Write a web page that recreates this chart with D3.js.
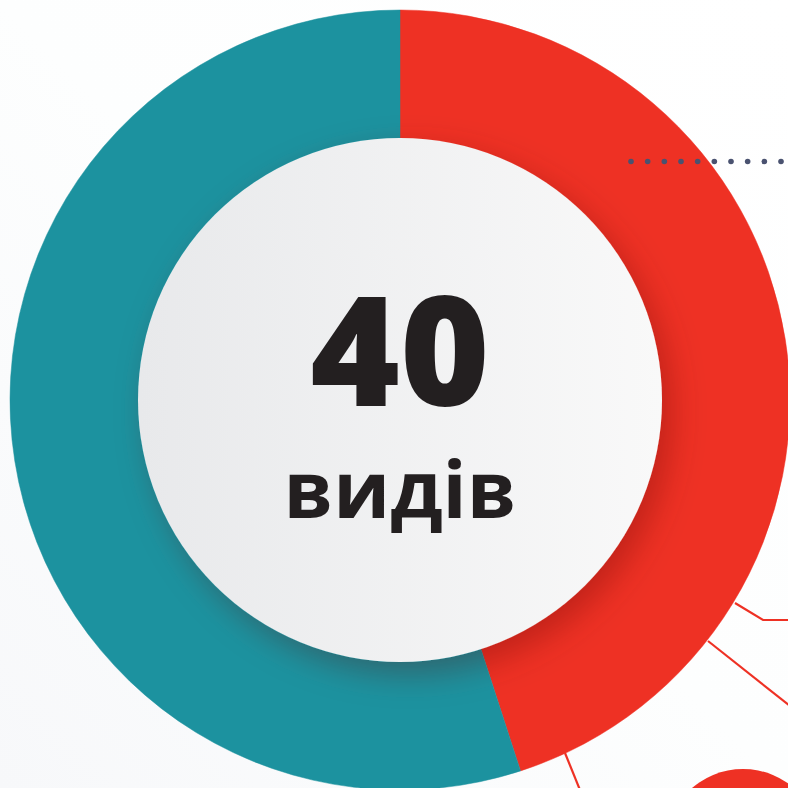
<!DOCTYPE html>
<html>
<head>
<meta charset="utf-8">
<script src="https://cdn.jsdelivr.net/npm/d3@7"></script>
<style>
  body { margin: 0; background: #fcfdfd; }
  svg { display: block; }
</style>
</head>
<body>
<script>
var categories = ["Червоні", "Бірюзові"];
var values = [18, 22];
var colors = ["#ee3124", "#1c929f"];
var totalLabel = "40";
var unitLabel = "видів";

var width = 788, height = 788;
var cx = 400, cy = 400,
    outerR = 390, innerR = 262;

var svg = d3.select("body")
            .append("svg")
            .attr("width", width)
            .attr("height", height);

var defs = svg.append("defs");

var bg = defs.append("linearGradient")
             .attr("id", "bg")
             .attr("x1", "0").attr("y1", "1").attr("x2", "1").attr("y2", "0");
bg.append("stop").attr("offset", "0").attr("stop-color", "#f7f8fa");
bg.append("stop").attr("offset", "0.5").attr("stop-color", "#fdfefe");
bg.append("stop").attr("offset", "1").attr("stop-color", "#ffffff");

var inner = defs.append("linearGradient")
                .attr("id", "inner")
                .attr("x1", "0").attr("y1", "0").attr("x2", "1").attr("y2", "0");
inner.append("stop").attr("offset", "0").attr("stop-color", "#e8e9eb");
inner.append("stop").attr("offset", "1").attr("stop-color", "#f9f9f9");

var shadow = defs.append("filter")
                 .attr("id", "shadow")
                 .attr("x", "-30%").attr("y", "-30%")
                 .attr("width", "160%").attr("height", "160%");
shadow.append("feDropShadow")
      .attr("dx", 10).attr("dy", 12)
      .attr("stdDeviation", 16)
      .attr("flood-color", "#5a1010")
      .attr("flood-opacity", 0.3);

svg.append("rect")
   .attr("width", width).attr("height", height)
   .attr("fill", "url(#bg)");

// decorative connector lines
var lines = svg.append("g")
               .attr("fill", "none")
               .attr("stroke", "#ee3124")
               .attr("stroke-width", 2.2);
lines.append("polyline").attr("points", "735,603 763,620 790,620");
lines.append("line").attr("x1", 708).attr("y1", 641).attr("x2", 790).attr("y2", 706);
lines.append("line").attr("x1", 565).attr("y1", 753).attr("x2", 580).attr("y2", 790);

svg.append("circle")
   .attr("cx", 743).attr("cy", 847).attr("r", 78)
   .attr("fill", "#ee3124");

var pie = d3.pie()
            .sort(null)
            .value(function(d){ return d; });

var arc = d3.arc()
            .innerRadius(innerR - 4)
            .outerRadius(outerR);

var ring = svg.append("g")
              .attr("transform", "translate(" + cx + "," + cy + ")");

ring.selectAll("path")
    .data(pie(values))
    .enter()
    .append("path")
    .attr("d", arc)
    .attr("fill", function(d, i){ return colors[i]; })
    .attr("stroke", function(d, i){ return colors[i]; })
    .attr("stroke-width", 0.5);

ring.append("circle")
    .attr("r", innerR)
    .attr("fill", "url(#inner)")
    .attr("filter", "url(#shadow)");

// one text block, two lines
var label = ring.append("text")
    .attr("text-anchor", "middle")
    .style("font-family", "'Open Sans', sans-serif")
    .attr("fill", "#231f20");

label.append("tspan")
    .attr("x", 0)
    .attr("y", 6)
    .style("font-weight", 800)
    .style("font-size", "153px")
    .text(totalLabel);

label.append("tspan")
    .attr("x", 0)
    .attr("y", 118)
    .style("font-weight", 700)
    .style("font-size", "79px")
    .text(unitLabel);

// dotted leader at top right
var dots = d3.range(10);
var dotX = d3.scaleLinear().domain([0, 9]).range([631, 781]);
svg.append("g")
   .selectAll("circle")
   .data(dots)
   .enter()
   .append("circle")
   .attr("cx", function(d){ return dotX(d); })
   .attr("cy", 161.5)
   .attr("r", 2.8)
   .attr("fill", "#4a5270");
</script>
</body>
</html>
